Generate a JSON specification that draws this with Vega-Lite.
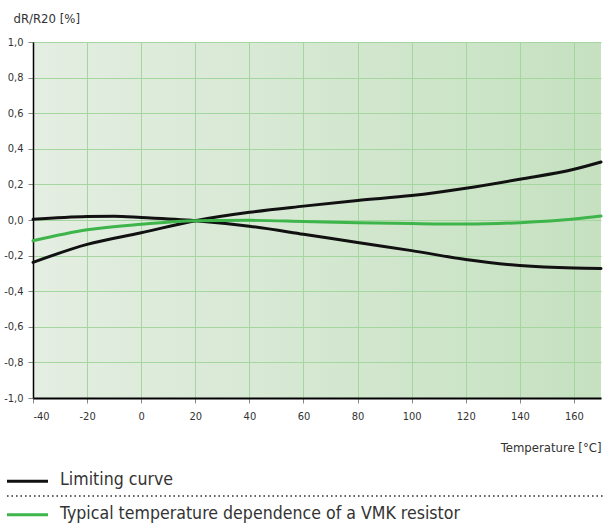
{
  "$schema": "https://vega.github.io/schema/vega-lite/v6.json",
  "padding": {"left": 3, "top": 12, "right": 0, "bottom": 0},
  "background": "#ffffff",
  "config": {
    "font": "DejaVu Sans Condensed, Liberation Sans Narrow, Roboto",
    "view": {"stroke": null},
    "concat": {"spacing": 17}
  },
  "datasets": {
    "curves": [
      {"curve": "upper", "series": "Limiting curve", "t": -40, "v": -0.238},
      {"curve": "upper", "series": "Limiting curve", "t": -20, "v": -0.137},
      {"curve": "upper", "series": "Limiting curve", "t": 0, "v": -0.072},
      {"curve": "upper", "series": "Limiting curve", "t": 20, "v": -0.004},
      {"curve": "upper", "series": "Limiting curve", "t": 40, "v": 0.043},
      {"curve": "upper", "series": "Limiting curve", "t": 60, "v": 0.078},
      {"curve": "upper", "series": "Limiting curve", "t": 80, "v": 0.11},
      {"curve": "upper", "series": "Limiting curve", "t": 100, "v": 0.137},
      {"curve": "upper", "series": "Limiting curve", "t": 120, "v": 0.178},
      {"curve": "upper", "series": "Limiting curve", "t": 140, "v": 0.229},
      {"curve": "upper", "series": "Limiting curve", "t": 160, "v": 0.285},
      {"curve": "upper", "series": "Limiting curve", "t": 170, "v": 0.326},
      {"curve": "lower", "series": "Limiting curve", "t": -40, "v": 0.004},
      {"curve": "lower", "series": "Limiting curve", "t": -20, "v": 0.019},
      {"curve": "lower", "series": "Limiting curve", "t": -10, "v": 0.021},
      {"curve": "lower", "series": "Limiting curve", "t": 0, "v": 0.014},
      {"curve": "lower", "series": "Limiting curve", "t": 20, "v": -0.004},
      {"curve": "lower", "series": "Limiting curve", "t": 40, "v": -0.035},
      {"curve": "lower", "series": "Limiting curve", "t": 60, "v": -0.08},
      {"curve": "lower", "series": "Limiting curve", "t": 80, "v": -0.127},
      {"curve": "lower", "series": "Limiting curve", "t": 100, "v": -0.172},
      {"curve": "lower", "series": "Limiting curve", "t": 120, "v": -0.222},
      {"curve": "lower", "series": "Limiting curve", "t": 140, "v": -0.256},
      {"curve": "lower", "series": "Limiting curve", "t": 160, "v": -0.27},
      {"curve": "lower", "series": "Limiting curve", "t": 170, "v": -0.272},
      {"curve": "typical", "series": "Typical temperature dependence of a VMK resistor", "t": -40, "v": -0.117},
      {"curve": "typical", "series": "Typical temperature dependence of a VMK resistor", "t": -20, "v": -0.055},
      {"curve": "typical", "series": "Typical temperature dependence of a VMK resistor", "t": 0, "v": -0.024},
      {"curve": "typical", "series": "Typical temperature dependence of a VMK resistor", "t": 20, "v": -0.004},
      {"curve": "typical", "series": "Typical temperature dependence of a VMK resistor", "t": 40, "v": -0.002},
      {"curve": "typical", "series": "Typical temperature dependence of a VMK resistor", "t": 60, "v": -0.008},
      {"curve": "typical", "series": "Typical temperature dependence of a VMK resistor", "t": 80, "v": -0.015},
      {"curve": "typical", "series": "Typical temperature dependence of a VMK resistor", "t": 100, "v": -0.02},
      {"curve": "typical", "series": "Typical temperature dependence of a VMK resistor", "t": 120, "v": -0.023},
      {"curve": "typical", "series": "Typical temperature dependence of a VMK resistor", "t": 140, "v": -0.015},
      {"curve": "typical", "series": "Typical temperature dependence of a VMK resistor", "t": 160, "v": 0.005},
      {"curve": "typical", "series": "Typical temperature dependence of a VMK resistor", "t": 170, "v": 0.022}
    ],
    "legend": [
      {"series": "Limiting curve"},
      {"series": "Typical temperature dependence of a VMK resistor"}
    ]
  },
  "vconcat": [
    {
      "width": 568,
      "height": 356,
      "view": {
        "stroke": null,
        "fill": {
          "gradient": "linear",
          "x1": 0, "x2": 1, "y1": 0, "y2": 0,
          "stops": [
            {"offset": 0, "color": "#e4eee2"},
            {"offset": 1, "color": "#c5e1c0"}
          ]
        }
      },
      "data": {"name": "curves"},
      "mark": {"type": "line", "interpolate": "monotone", "strokeWidth": 3, "strokeCap": "round"},
      "encoding": {
        "x": {
          "field": "t", "type": "quantitative",
          "scale": {"domain": [-40, 170], "nice": false, "zero": false},
          "axis": {
            "values": [-40, -20, 0, 20, 40, 60, 80, 100, 120, 140, 160],
            "labelExpr": "replace(format(datum.value, 'd'), '\u2212', '-')",
            "title": "Temperature [°C]",
            "titleX": 568, "titleY": 49, "titleAlign": "right", "titleBaseline": "middle",
            "titleFontSize": 13, "titleFontWeight": "normal", "titleColor": "#333333",
            "labelFontSize": 11, "labelColor": "#333333", "labelPadding": 7,
            "domainColor": "#000000", "domainWidth": 2,
            "tickColor": "#888888", "tickSize": 5,
            "grid": true, "gridColor": "#a6d6a0", "gridWidth": 1
          }
        },
        "y": {
          "field": "v", "type": "quantitative",
          "scale": {"domain": [-1, 1], "nice": false},
          "axis": {
            "values": [-1, -0.8, -0.6, -0.4, -0.2, 0, 0.2, 0.4, 0.6, 0.8, 1],
            "labelOverlap": false,
            "labelExpr": "replace(replace(format(datum.value, '.1f'), '\u2212', '-'), '.', ',')",
            "title": "dR/R20 [%]",
            "titleAngle": 0, "titleX": -20, "titleY": -24, "titleAlign": "left", "titleBaseline": "middle",
            "titleFontSize": 13, "titleFontWeight": "normal", "titleColor": "#333333",
            "labelFontSize": 11, "labelColor": "#333333", "labelPadding": 5,
            "domainColor": "#000000", "domainWidth": 1.5,
            "tickColor": "#888888", "tickSize": 5,
            "grid": true, "gridColor": "#a6d6a0", "gridWidth": 1
          }
        },
        "detail": {"field": "curve"},
        "color": {
          "field": "series", "type": "nominal",
          "scale": {
            "domain": ["Limiting curve", "Typical temperature dependence of a VMK resistor"],
            "range": ["#111111", "#3db54a"]
          },
          "legend": null
        }
      }
    },
    {
      "width": 568,
      "height": 50,
      "data": {"name": "legend"},
      "encoding": {
        "y": {
          "field": "series", "type": "nominal",
          "scale": {"type": "point", "domain": ["Limiting curve", "sep", "Typical temperature dependence of a VMK resistor"], "padding": 0.5},
          "axis": null
        }
      },
      "layer": [
        {
          "mark": {"type": "rule", "strokeWidth": 3},
          "encoding": {
            "x": {"datum": -26, "type": "quantitative", "scale": {"domain": [0, 568], "nice": false, "zero": false}, "axis": null},
            "x2": {"datum": 15},
            "color": {"field": "series", "type": "nominal", "legend": null}
          }
        },
        {
          "mark": {"type": "text", "align": "left", "baseline": "middle", "fontSize": 17.6, "color": "#333333", "dy": -1},
          "encoding": {
            "x": {"datum": 27, "type": "quantitative"},
            "text": {"field": "series"}
          }
        },
        {
          "mark": {"type": "rule", "strokeWidth": 1.2, "strokeDash": [1.5, 3], "color": "#333333", "yOffset": -2},
          "encoding": {
            "x": {"datum": -26, "type": "quantitative"},
            "x2": {"datum": 570},
            "y": {"datum": "sep", "type": "nominal"}
          }
        }
      ]
    }
  ]
}
